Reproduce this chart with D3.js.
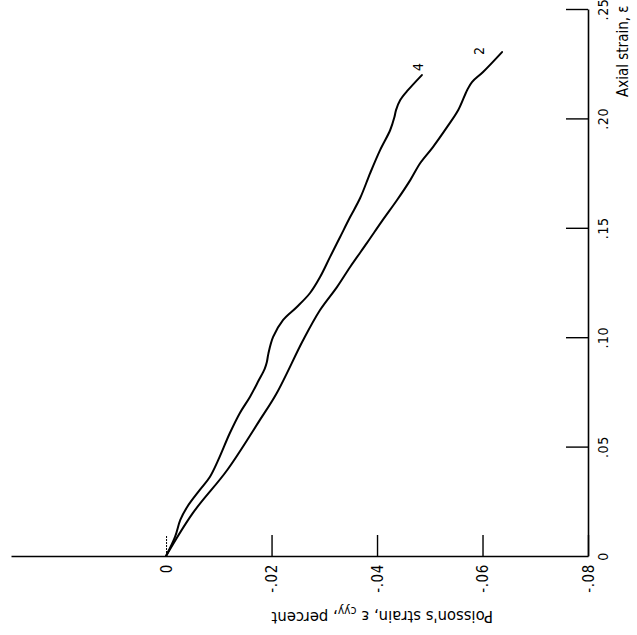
<!DOCTYPE html>
<html>
<head>
<meta charset="utf-8">
<script src="https://cdn.jsdelivr.net/npm/d3@7"></script>
<style>
  html, body { margin: 0; padding: 0; background: #fff; }
  svg { display: block; }
  text { font-family: "Liberation Sans Narrow", "DejaVu Sans Condensed", "Arial Narrow", sans-serif; fill: #000; }
</style>
</head>
<body>
<svg id="chart" width="637" height="635"></svg>
<script>
// ---- data ----
const axialTicks = [0, 0.05, 0.10, 0.15, 0.20, 0.25];
const axialTickLabels = ["0", ".05", ".10", ".15", ".20", ".25"];
const poissonTicks = [0, -0.02, -0.04, -0.06, -0.08];
const poissonTickLabels = ["0", "-.02", "-.04", "-.06", "-.08"];

// curve "4": axial strain and Poisson's strain (percent)
const series4Axial   = [0, 0.0087, 0.0165, 0.0224, 0.0302, 0.0361, 0.0439, 0.0562, 0.0654, 0.0727, 0.0804, 0.0855, 0.0885, 0.0925, 0.1001, 0.1079, 0.1138, 0.1202, 0.1275, 0.1367, 0.1458, 0.1549, 0.1636, 0.1750, 0.1856, 0.1947, 0.2006, 0.2038, 0.2084, 0.2130, 0.2198];
const series4Poisson = [0, -0.0017, -0.0027, -0.0040, -0.0064, -0.0083, -0.0099, -0.0121, -0.0140, -0.0159, -0.0176, -0.0187, -0.0191, -0.0194, -0.0203, -0.0222, -0.0248, -0.0273, -0.0292, -0.0311, -0.0330, -0.0349, -0.0368, -0.0387, -0.0406, -0.0425, -0.0433, -0.0436, -0.0444, -0.0459, -0.0485];

// curve "2"
const series2Axial   = [0, 0.0197, 0.0393, 0.0622, 0.0745, 0.0987, 0.1124, 0.1229, 0.1321, 0.1431, 0.1536, 0.1627, 0.1718, 0.1796, 0.1869, 0.1961, 0.2038, 0.2130, 0.2166, 0.2212, 0.2303];
const series2Poisson = [0, -0.0051, -0.0116, -0.0178, -0.0210, -0.0260, -0.0292, -0.0324, -0.0349, -0.0381, -0.0411, -0.0438, -0.0463, -0.0482, -0.0506, -0.0533, -0.0554, -0.0571, -0.0580, -0.0601, -0.0637];

const seriesNames = ["4", "2"];
const labelAxial = [0.2235, 0.2308];
const labelPoisson = [-0.0478, -0.0593];

// ---- scales ----
const svg = d3.select("#chart");
const pScale = d3.scaleLinear().domain([0.0294, -0.08]).range([11, 588]);   // horizontal
const aScale = d3.scaleLinear().domain([0, 0.25]).range([556, 9]);          // vertical

const axisY = aScale(0);
const axisX = pScale(-0.08);

// ---- Poisson axis (horizontal, bottom) ----
const pAxis = d3.axisTop(pScale)
  .tickValues(poissonTicks)
  .tickSize(21)
  .tickSizeOuter(0)
  .tickFormat((d, i) => poissonTickLabels[i]);

const gp = svg.append("g")
  .attr("transform", `translate(0,${axisY})`)
  .call(pAxis);
gp.select(".domain").attr("stroke", "#000").attr("stroke-width", 1.6);
gp.selectAll(".tick line").attr("stroke", "#000").attr("stroke-width", 1.4);
gp.selectAll(".tick").filter(d => d === 0).select("line").attr("stroke-dasharray", "2,1").attr("stroke-width", 1);
gp.selectAll(".tick text")
  .attr("x", 0).attr("y", 0).attr("dy", "0.35em")
  .attr("transform", "translate(0,8) rotate(-90)")
  .attr("text-anchor", "end")
  .attr("font-size", 15)
  .attr("letter-spacing", "0.6px")
  .attr("font-family", null)
  .attr("fill", "#000");

// ---- Axial axis (vertical, right) ----
const aAxis = d3.axisLeft(aScale)
  .tickValues(axialTicks)
  .tickSize(22)
  .tickSizeOuter(0)
  .tickFormat((d, i) => axialTickLabels[i]);

const ga = svg.append("g")
  .attr("transform", `translate(${axisX},0)`)
  .call(aAxis);
ga.select(".domain").attr("stroke", "#000").attr("stroke-width", 1.6);
ga.selectAll(".tick line").attr("stroke", "#000").attr("stroke-width", 1.4);
ga.selectAll(".tick").filter(d => d === 0).select("line").remove();
ga.selectAll(".tick text")
  .attr("x", 0).attr("y", 0).attr("dy", 0)
  .attr("transform", "translate(20,0) rotate(-90)")
  .attr("text-anchor", "middle")
  .attr("font-size", 14)
  .attr("letter-spacing", "0.6px")
  .attr("font-family", null)
  .attr("fill", "#000");

// ---- axis titles ----
const pTitle = svg.append("text")
  .attr("transform", "translate(493,611) rotate(180)")
  .attr("text-anchor", "start")
  .attr("font-size", 16.5);
pTitle.append("tspan").text("Poisson's strain, ε ");
pTitle.append("tspan").attr("dy", "0.35em").attr("font-size", 12).text("cyy");
pTitle.append("tspan").attr("dy", "-0.3em").text(", percent");

const aTitle = svg.append("text")
  .attr("transform", "translate(628,97) rotate(-90)")
  .attr("text-anchor", "start")
  .attr("font-size", 15)
  .text("Axial strain, ε");

// ---- curves ----
const seriesData = [
  series4Axial.map((a, i) => ({a, p: series4Poisson[i]})),
  series2Axial.map((a, i) => ({a, p: series2Poisson[i]}))
];
const line = d3.line()
  .x(d => pScale(d.p))
  .y(d => aScale(d.a))
  .curve(d3.curveCatmullRom.alpha(0.5));

svg.append("g").selectAll("path.curve")
  .data(seriesData)
  .join("path")
  .attr("class", "curve")
  .attr("d", line)
  .attr("fill", "none")
  .attr("stroke", "#000")
  .attr("stroke-width", 2)
  .attr("stroke-linejoin", "round")
  .attr("stroke-linecap", "round");

svg.append("g").selectAll("text.curve-label")
  .data(seriesNames)
  .join("text")
  .attr("class", "curve-label")
  .attr("transform", (d, i) => `translate(${pScale(labelPoisson[i])},${aScale(labelAxial[i])}) rotate(-90)`)
  .attr("text-anchor", "middle")
  .attr("dy", "0.35em")
  .attr("font-size", 14)
  .text(d => d);
</script>
</body>
</html>
